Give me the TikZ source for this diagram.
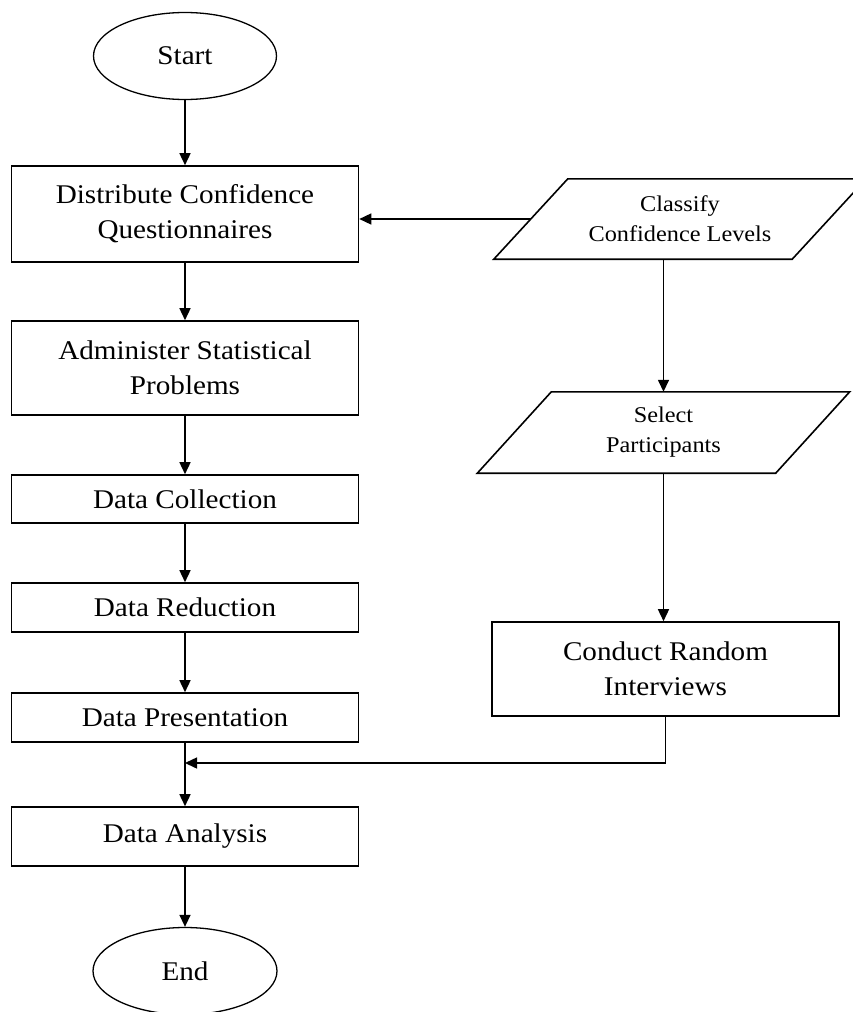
\documentclass[tikz,border=0pt]{standalone}
\usepackage{fontspec}
\setmainfont[FakeStretch=1.08]{Liberation Serif}
\usetikzlibrary{arrows.meta,shapes.geometric}
\tikzset{
  box/.style={draw, line width=1.6pt, rectangle, inner sep=0pt, align=center, font=\fontsize{27}{35}\selectfont},
  term/.style={draw, line width=1.3pt, ellipse, inner sep=0pt, font=\fontsize{27}{35}\selectfont},
  para/.style={rectangle, inner sep=0pt, align=center, font=\fontsize{22.5}{30}\selectfont},
  paraline/.style={line width=1.6pt, line join=miter},
  arr/.style={line width=1.5pt, -{Triangle[length=12pt,width=11pt]}}
}
\begin{document}
\begin{tikzpicture}[x=1pt,y=1pt]
\useasboundingbox (0,0) rectangle (853,-1012);
\clip (0,0) rectangle (853,-1012);
% left column
\node[term, minimum width=183pt, minimum height=87pt] (start) at (185,-56) {Start};
\node[box, minimum width=347pt, minimum height=96pt] (dist) at (185,-214) {Distribute Confidence\\Questionnaires};
\node[box, minimum width=347pt, minimum height=94pt] (admin) at (185,-368) {Administer Statistical\\Problems};
\node[box, minimum width=347pt, minimum height=48pt] (coll) at (185,-499) {Data Collection};
\node[box, minimum width=347pt, minimum height=49pt] (red) at (185,-607.5) {Data Reduction};
\node[box, minimum width=347pt, minimum height=49pt] (pres) at (185,-717.5) {Data Presentation};
\node[box, minimum width=347pt, minimum height=59pt] (anal) at (185,-836.5) {Data Analysis};
\node[term, minimum width=184pt, minimum height=87pt] (end) at (185,-971) {End};
% right column
\node[para, minimum width=298pt, minimum height=80pt] (cls) at (680,-219) {Classify\\Confidence Levels};
\draw[paraline] ([xshift=37pt]cls.north west) -- ([xshift=37pt]cls.north east)
  -- ([xshift=-37pt]cls.south east) -- ([xshift=-37pt]cls.south west) -- cycle;
\node[para, minimum width=298pt, minimum height=81pt] (sel) at (663.5,-432.5) {Select\\Participants};
\draw[paraline] ([xshift=37pt]sel.north west) -- ([xshift=37pt]sel.north east)
  -- ([xshift=-37pt]sel.south east) -- ([xshift=-37pt]sel.south west) -- cycle;
\node[box, minimum width=347pt, minimum height=94pt] (cond) at (665.5,-669) {Conduct Random\\Interviews};
% connectors
\draw[arr] (start) -- (dist);
\draw[arr] (dist) -- (admin);
\draw[arr] (admin) -- (coll);
\draw[arr] (coll) -- (red);
\draw[arr] (red) -- (pres);
\draw[arr] (pres) -- (anal);
\draw[arr] (anal) -- (end);
\draw[arr] (cls.west) -- (cls.west -| dist.east);
\draw[arr] (sel.north |- cls.south) -- (sel.north);
\draw[arr] (sel.south) -- (sel.south |- cond.north);
\coordinate (mrg) at (pres.south |- 0,-763);
\draw[arr] (cond.south) |- (mrg);
\end{tikzpicture}
\end{document}
